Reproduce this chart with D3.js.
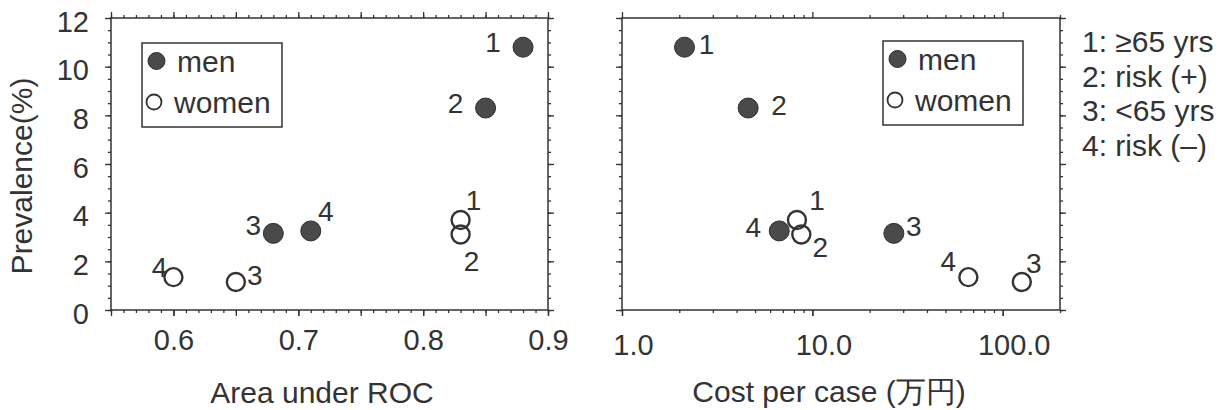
<!DOCTYPE html>
<html>
<head>
<meta charset="utf-8">
<script src="https://cdn.jsdelivr.net/npm/d3@7"></script>
<style>
body { margin: 0; background: #fff; }
text { font-family: "Liberation Sans", Arial, sans-serif; fill: #333; }
</style>
</head>
<body>
<svg id="chart" width="1229" height="410"></svg>
<script>
// data
let groups = ["men", "women"]
let pointLabels = ["1", "2", "3", "4"]
let menPrev = [10.8, 8.3, 3.15, 3.25]
let womenPrev = [3.7, 3.1, 1.15, 1.35]
let menAuc = [0.88, 0.85, 0.68, 0.71]
let womenAuc = [0.83, 0.83, 0.65, 0.60]
let menCost = [2.13, 4.6, 26.8, 6.7]
let womenCost = [8.3, 8.75, 126, 66]
let keyNames = ["1: \u226565 yrs", "2: risk (+)", "3: <65 yrs", "4: risk (\u2013)"]
let aucTicks = [0.6, 0.7, 0.8, 0.9]
let costTicks = [1, 10, 100]
let prevTicks = [0, 2, 4, 6, 8, 10, 12]

let svg = d3.select("#chart")
let ink = "#333"

let plotTop = 18, plotBottom = 310
let yScale = d3.scaleLinear().domain([0, 12]).range([plotBottom, plotTop])
let xAuc = d3.scaleLinear().domain([0.55, 0.9]).range([111, 548])
let xCost = d3.scaleLog().domain([1, 200]).range([622, 1060])

// label nudges in px, [dx, dy], per point
let aucNudge = {
    men: [[-30, -5], [-30, -5], [-20, -8], [15, -19]],
    women: [[13, -19], [11, 27], [19, -7], [-14, -10]]
}
let costNudge = {
    men: [[22, -3], [31, -3], [20, -7], [-26, -3]],
    women: [[20, -19], [19, 13], [12, -19], [-20, -16]]
}

let range = (a, b, s) => d3.range(Math.round(a / s), Math.round(b / s) + 1).map(i => +(i * s).toFixed(4))

let tickSet = (g, axis) => {
    g.call(axis)
    g.select(".domain").remove()
    g.selectAll("line").attr("stroke", ink).attr("stroke-width", 1.3)
    g.selectAll("text").style("font-size", "29px").attr("fill", ink)
}

let drawPanel = (x, majorX, minorX, labelX, fmtX, showY, xPad, xDx) => {
    let x0 = x.range()[0], x1 = x.range()[1]
    let yMinor = range(0, 12, 0.5)

    // bottom
    tickSet(svg.append("g").attr("transform", "translate(0," + plotBottom + ")"),
        d3.axisBottom(x).tickValues(minorX).tickSize(3).tickFormat(""))
    tickSet(svg.append("g").attr("transform", "translate(0," + plotBottom + ")"),
        d3.axisBottom(x).tickValues(majorX).tickSize(6).tickFormat(""))
    let lab = svg.append("g").attr("transform", "translate(0," + plotBottom + ")")
    tickSet(lab, d3.axisBottom(x).tickValues(labelX).tickSize(6).tickPadding(xPad).tickFormat(fmtX))
    lab.selectAll("text").attr("dx", xDx)
    // top
    tickSet(svg.append("g").attr("transform", "translate(0," + plotTop + ")"),
        d3.axisTop(x).tickValues(minorX).tickSize(3).tickFormat(""))
    tickSet(svg.append("g").attr("transform", "translate(0," + plotTop + ")"),
        d3.axisTop(x).tickValues(majorX).tickSize(6).tickFormat(""))
    // left
    tickSet(svg.append("g").attr("transform", "translate(" + x0 + ",0)"),
        d3.axisLeft(yScale).tickValues(yMinor).tickSize(3).tickFormat(""))
    let yl = svg.append("g").attr("transform", "translate(" + x0 + ",0)")
    tickSet(yl, d3.axisLeft(yScale).tickValues(prevTicks).tickSize(6).tickPadding(16)
        .tickFormat(showY ? d3.format("d") : ""))
    yl.selectAll("text").attr("dy", "0.45em")
    // right
    tickSet(svg.append("g").attr("transform", "translate(" + x1 + ",0)"),
        d3.axisRight(yScale).tickValues(yMinor).tickSize(3).tickFormat(""))
    tickSet(svg.append("g").attr("transform", "translate(" + x1 + ",0)"),
        d3.axisRight(yScale).tickValues(prevTicks).tickSize(6).tickFormat(""))

    svg.append("rect")
        .attr("x", x0).attr("y", plotTop)
        .attr("width", x1 - x0).attr("height", plotBottom - plotTop)
        .attr("fill", "none").attr("stroke", ink).attr("stroke-width", 1.5)
}

let drawPoints = (x, menX, womenX, nudge) => {
    let men = menX.map((v, i) => ({ x: v, y: menPrev[i], lab: pointLabels[i], n: nudge.men[i] }))
    let women = womenX.map((v, i) => ({ x: v, y: womenPrev[i], lab: pointLabels[i], n: nudge.women[i] }))
    let g = svg.append("g")

    g.selectAll(".men").data(men).enter().append("circle")
        .attr("class", "men")
        .attr("cx", d => x(d.x)).attr("cy", d => yScale(d.y)).attr("r", 10)
        .attr("fill", "#4a4a4a").attr("stroke", "#2e2e2e").attr("stroke-width", 1)

    // white fill first, then rings, so overlapping rings stay visible
    g.selectAll(".wfill").data(women).enter().append("circle")
        .attr("cx", d => x(d.x)).attr("cy", d => yScale(d.y)).attr("r", 9)
        .attr("fill", "#fff")
    g.selectAll(".women").data(women).enter().append("circle")
        .attr("class", "women")
        .attr("cx", d => x(d.x)).attr("cy", d => yScale(d.y)).attr("r", 9)
        .attr("fill", "none").attr("stroke", ink).attr("stroke-width", 2.4)

    g.selectAll(".plab").data(men.concat(women)).enter().append("text")
        .attr("x", d => x(d.x) + d.n[0]).attr("y", d => yScale(d.y) + d.n[1])
        .attr("text-anchor", "middle").attr("dominant-baseline", "central")
        .style("font-size", "28px")
        .text(d => d.lab)
}

let drawKey = (bx, by) => {
    let k = svg.append("g").attr("transform", "translate(" + bx + "," + by + ")")
    k.append("rect").attr("width", 140).attr("height", 84)
        .attr("fill", "#fff").attr("stroke", ink).attr("stroke-width", 1.5)
    k.selectAll(".km").data(groups).enter().append("circle")
        .attr("cx", (d, i) => i == 0 ? 14.5 : 12)
        .attr("cy", (d, i) => i == 0 ? 18 : 59)
        .attr("r", (d, i) => i == 0 ? 8.5 : 7.5)
        .attr("fill", (d, i) => i == 0 ? "#4a4a4a" : "none")
        .attr("stroke", (d, i) => i == 0 ? "#2e2e2e" : ink)
        .attr("stroke-width", (d, i) => i == 0 ? 1 : 1.8)
    k.selectAll(".kt").data(groups).enter().append("text")
        .attr("x", (d, i) => i == 0 ? 35 : 32)
        .attr("y", (d, i) => i == 0 ? 29 : 70)
        .style("font-size", "30px")
        .text(d => d)
}

drawPanel(xAuc, range(0.55, 0.9, 0.05), range(0.55, 0.9, 0.01), aucTicks, d3.format(".1f"), true, 13, 0)
drawPanel(xCost, [1, 10, 100],
    [2, 3, 4, 5, 6, 7, 8, 9, 20, 30, 40, 50, 60, 70, 80, 90, 200],
    costTicks, d3.format(".1f"), false, 18, 11)

drawPoints(xAuc, menAuc, womenAuc, aucNudge)
drawPoints(xCost, menCost, womenCost, costNudge)

drawKey(142, 43)
drawKey(883, 41)

// axis titles
svg.append("text")
    .attr("transform", "translate(32,176) rotate(-90)")
    .attr("text-anchor", "middle")
    .style("font-size", "30px")
    .text("Prevalence(%)")
svg.append("text")
    .attr("x", 322).attr("y", 403)
    .attr("text-anchor", "middle")
    .style("font-size", "30px")
    .text("Area under ROC")
svg.append("text")
    .attr("x", 829).attr("y", 402)
    .attr("text-anchor", "middle")
    .style("font-size", "30px")
    .text("Cost per case (\u4e07\u5186)")

// group key on the right
svg.append("g").selectAll("text").data(keyNames).enter().append("text")
    .attr("x", 1082)
    .attr("y", (d, i) => 52 + i * 34.5)
    .style("font-size", "30px")
    .text(d => d)
</script>
</body>
</html>
